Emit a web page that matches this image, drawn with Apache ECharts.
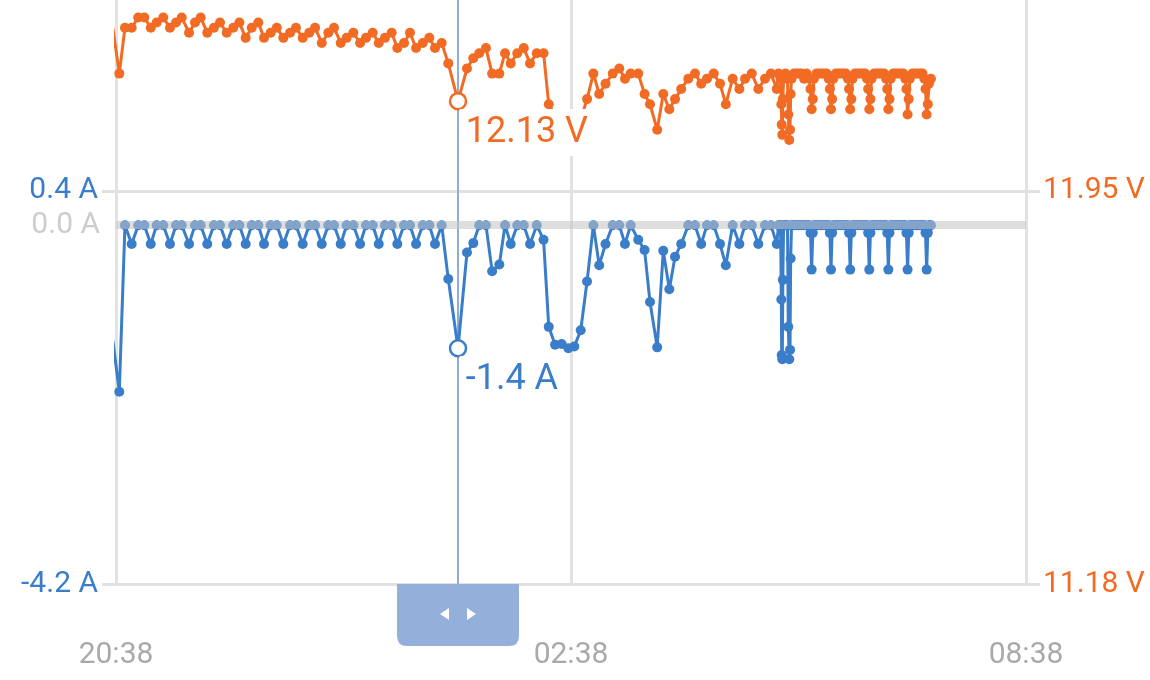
<!DOCTYPE html>
<html>
<head>
<meta charset="utf-8">
<script src="https://cdn.jsdelivr.net/npm/echarts@6.0.0/dist/echarts.min.js"></script>
<style>
html,body{margin:0;padding:0;background:#ffffff;}
#chart{width:1150px;height:680px;}
</style>
</head>
<body>
<div id="chart"></div>
<script>
// ---- data ----
const timeLabels = ['20:38', '02:38', '08:38'];   // x ticks at 0, 360, 720 minutes after 20:38
const ampTicks = [0.4, -4.2];
const voltTicks = [11.95, 11.18];
const cursorMinute = 270.6;                          // where the cursor sits

// minutes after 20:38
const minutes = [
  -2.5, 2.6, 7.1, 12.4, 17.6, 22.4, 27.5, 32.2, 37.4, 42.7,
  47.5, 52.0, 57.8, 62.5, 67.0, 72.2, 77.5, 82.3, 87.6, 92.8,
  97.6, 102.6, 107.4, 112.6, 117.1, 122.4, 127.2, 132.4, 137.7, 142.4,
  147.7, 152.9, 157.5, 162.8, 168.0, 172.5, 177.8, 182.5, 187.8, 193.1,
  197.8, 203.1, 207.9, 212.8, 218.1, 222.6, 227.9, 232.6, 237.4, 242.7,
  247.9, 252.4, 257.7, 262.9, 270.6, 277.7, 282.7, 287.4, 292.7, 297.6,
  303.3, 307.8, 312.3, 317.5, 322.6, 327.6, 332.9, 338.3, 342.4, 347.4,
  352.6, 357.9, 362.6, 367.7, 372.7, 377.7, 382.3, 387.3, 393.0, 398.2,
  402.7, 407.2, 413.2, 418.2, 422.5, 428.2, 433.0, 437.8, 442.3, 447.2,
  452.8, 458.1, 463.0, 467.6, 472.9, 477.9, 482.5, 487.9, 493.2, 497.7,
  503.0, 508.2, 513.5, 518.2, 522.8, 524.2, 525.8, 526.4, 526.7, 527.2,
  527.6, 528.2, 529.7, 531.3, 531.9, 532.7, 533.3, 533.8, 534.5, 536.4,
  538.4, 540.4, 542.4, 544.4, 546.4, 548.4, 549.5, 550.4, 551.3, 552.2,
  554.2, 556.2, 558.2, 560.2, 562.2, 563.9, 564.8, 565.7, 566.6, 567.5,
  569.5, 571.5, 573.5, 575.5, 577.5, 579.1, 580.0, 580.9, 581.8, 582.7,
  584.7, 586.7, 588.7, 590.7, 592.7, 594.2, 595.1, 596.0, 596.9, 597.8,
  599.8, 601.8, 603.8, 605.8, 607.8, 609.3, 610.2, 611.1, 612.0, 612.9,
  614.9, 616.9, 618.9, 620.9, 622.9, 624.5, 625.4, 626.3, 627.2, 628.1,
  630.1, 632.1, 634.1, 636.1, 638.1, 639.6, 640.5, 641.4, 642.3, 643.2,
  644.8
];

// battery voltage (V)
const volts = [
  12.27, 12.18, 12.27, 12.27, 12.29, 12.29, 12.27, 12.28, 12.29, 12.27,
  12.28, 12.29, 12.26, 12.28, 12.29, 12.26, 12.27, 12.28, 12.26, 12.27,
  12.28, 12.25, 12.27, 12.28, 12.25, 12.26, 12.27, 12.25, 12.26, 12.27,
  12.25, 12.26, 12.27, 12.24, 12.26, 12.27, 12.24, 12.25, 12.26, 12.24,
  12.25, 12.26, 12.24, 12.25, 12.26, 12.23, 12.24, 12.26, 12.23, 12.24,
  12.25, 12.23, 12.24, 12.20, 12.126, 12.19, 12.21, 12.22, 12.23, 12.18,
  12.18, 12.22, 12.20, 12.22, 12.23, 12.20, 12.22, 12.22, 12.12, 12.10,
  12.10, 12.09, 12.09, 12.09, 12.13, 12.18, 12.14, 12.16, 12.18, 12.19,
  12.17, 12.18, 12.18, 12.14, 12.12, 12.07, 12.14, 12.11, 12.13, 12.15,
  12.17, 12.18, 12.16, 12.17, 12.18, 12.16, 12.12, 12.17, 12.15, 12.17,
  12.18, 12.15, 12.17, 12.18, 12.15, 12.18, 12.17, 12.12, 12.08, 12.06,
  12.13, 12.17, 12.18, 12.17, 12.10, 12.05, 12.07, 12.14, 12.17, 12.18,
  12.18, 12.18, 12.18, 12.17, 12.18, 12.17, 12.15, 12.11, 12.13, 12.17,
  12.18, 12.18, 12.18, 12.18, 12.18, 12.17, 12.15, 12.11, 12.13, 12.17,
  12.18, 12.18, 12.18, 12.18, 12.18, 12.17, 12.15, 12.11, 12.13, 12.17,
  12.18, 12.18, 12.18, 12.18, 12.18, 12.17, 12.15, 12.11, 12.13, 12.17,
  12.18, 12.18, 12.18, 12.18, 12.18, 12.17, 12.15, 12.11, 12.13, 12.17,
  12.18, 12.18, 12.18, 12.18, 12.18, 12.17, 12.15, 12.10, 12.13, 12.17,
  12.18, 12.18, 12.18, 12.18, 12.18, 12.17, 12.15, 12.10, 12.12, 12.16,
  12.17
];

// battery current (A)
const amps = [
  -1.35, -1.95, 0, -0.22, 0, 0, -0.22, 0, 0, -0.22,
  0, 0, -0.22, 0, 0, -0.22, 0, 0, -0.22, 0,
  0, -0.22, 0, 0, -0.22, 0, 0, -0.22, 0, 0,
  -0.22, 0, 0, -0.22, 0, 0, -0.22, 0, 0, -0.22,
  0, 0, -0.22, 0, 0, -0.22, 0, 0, -0.22, 0,
  0, -0.22, 0, -0.63, -1.44, -0.32, -0.21, 0, 0, -0.54,
  -0.46, 0, -0.22, 0, 0, -0.22, 0, -0.17, -1.19, -1.40,
  -1.39, -1.44, -1.42, -1.23, -0.66, 0, -0.47, -0.22, 0, 0,
  -0.22, 0, -0.17, -0.29, -0.90, -1.43, -0.30, -0.75, -0.37, -0.22,
  0, 0, -0.22, 0, 0, -0.22, -0.47, 0, -0.22, 0,
  0, -0.22, 0, 0, -0.22, 0, 0, -0.87, -1.52, -1.57,
  -0.64, 0, 0, 0, -1.19, -1.57, -1.46, -0.39, 0, 0,
  0, 0, 0, 0, 0, 0, -0.09, -0.52, -0.09, 0,
  0, 0, 0, 0, 0, 0, -0.09, -0.52, -0.09, 0,
  0, 0, 0, 0, 0, 0, -0.09, -0.52, -0.09, 0,
  0, 0, 0, 0, 0, 0, -0.09, -0.52, -0.09, 0,
  0, 0, 0, 0, 0, 0, -0.09, -0.52, -0.09, 0,
  0, 0, 0, 0, 0, 0, -0.09, -0.52, -0.09, 0,
  0, 0, 0, 0, 0, 0, -0.09, -0.52, -0.09, 0,
  0
];

// ---- styling / building ----
const ORANGE = '#f26b24';
const BLUE = '#3a7dc9';
const GRID = '#e2e2e2';
const HI = minutes.indexOf(cursorMinute);
const voltData = minutes.map((m, i) => [m, volts[i]]);
const ampData = minutes.map((m, i) => [m, amps[i]]);

// drawn in a square box; ECharts stretches it to handle.size
const handleIcon = 'path://M0,0L122,0L122,102.3Q122,122,112,122L10,122Q0,122,0,102.3Z' +
  'M43,59L52,71L52,47ZM79,59L70,47L70,71Z';

const chart = echarts.init(document.getElementById('chart'), null, { renderer: 'canvas' });

const pointLabel = (color, fmt) => ({
  show: true,
  position: [11, 17],
  formatter: fmt,
  fontFamily: 'Roboto',
  fontSize: 36,
  lineHeight: 40,
  color: color,
  backgroundColor: '#ffffff',
  padding: [4, 6, 3, 6]
});

const option = {
  animation: false,
  backgroundColor: '#ffffff',
  textStyle: { fontFamily: 'Roboto' },
  grid: { left: 116, right: 124, top: 0, bottom: 96, containLabel: false, outerBoundsMode: 'none' },
  xAxis: {
    type: 'value',
    min: 0,
    max: 720,
    interval: 360,
    axisLine: { show: false },
    axisTick: { show: true, length: 14, lineStyle: { color: GRID, width: 3 } },
    splitLine: { show: true, lineStyle: { color: GRID, width: 3 } },
    axisLabel: {
      margin: 56, fontSize: 30, color: '#a9a9a9', fontFamily: 'Roboto',
      formatter: v => timeLabels[Math.round(v / 360)]
    },
    axisPointer: {
      show: true,
      value: minutes[HI],
      status: 'show',
      snap: false,
      triggerTooltip: false,
      z: 3,
      type: 'line',
      lineStyle: { color: '#8fadda', width: 2, type: 'solid' },
      label: { show: false },
      handle: {
        show: true,
        icon: handleIcon,
        size: [122, 62],
        margin: 31,
        color: '#94b0da',
        shadowBlur: 0,
        shadowOffsetX: 0,
        shadowOffsetY: 0,
        shadowColor: 'rgba(0,0,0,0)'
      }
    }
  },
  yAxis: [
    {
      type: 'value',
      position: 'left',
      min: -4.2,
      max: 2.6356,
      axisLine: { show: false },
      axisTick: { show: true, length: 14, customValues: ampTicks, lineStyle: { color: GRID, width: 3 } },
      axisLabel: {
        customValues: ampTicks, margin: 18, fontSize: 30, color: BLUE, fontFamily: 'Roboto',
        formatter: v => v.toFixed(1) + ' A'
      },
      splitLine: { show: true, lineStyle: { color: GRID, width: 3 } }
    },
    {
      type: 'value',
      position: 'right',
      min: 11.18,
      max: 12.3242,
      axisLine: { show: false },
      axisTick: { show: true, length: 14, customValues: voltTicks, lineStyle: { color: GRID, width: 3 } },
      axisLabel: {
        customValues: voltTicks, margin: 17, fontSize: 30, color: ORANGE, fontFamily: 'Roboto',
        formatter: v => v.toFixed(2) + ' V'
      },
      splitLine: { show: false }
    }
  ],
  series: [
    {
      name: 'Voltage',
      type: 'line',
      yAxisIndex: 1,
      data: voltData,
      symbol: 'circle',
      symbolSize: 10,
      showSymbol: true,
      lineStyle: { color: ORANGE, width: 3 },
      itemStyle: { color: ORANGE },
      emphasis: { disabled: true },
      markPoint: {
        silent: true,
        symbol: 'circle',
        symbolSize: 16,
        itemStyle: { color: '#ffffff', borderColor: ORANGE, borderWidth: 2.5 },
        label: pointLabel(ORANGE, p => Number(p.value).toFixed(2) + ' V'),
        emphasis: { disabled: true },
        data: [{ coord: [minutes[HI], volts[HI]], value: volts[HI] }]
      }
    },
    {
      name: 'Current',
      type: 'line',
      yAxisIndex: 0,
      data: ampData,
      symbol: 'circle',
      symbolSize: 10,
      showSymbol: true,
      lineStyle: { color: BLUE, width: 3 },
      itemStyle: { color: BLUE },
      emphasis: { disabled: true },
      markLine: {
        silent: true,
        symbol: ['none', 'none'],
        lineStyle: { color: 'rgba(195,195,195,0.55)', width: 8, type: 'solid' },
        label: {
          show: true, position: 'start', distance: 16,
          formatter: p => Number(p.value).toFixed(1) + ' A',
          color: '#cccccc', fontSize: 30, fontFamily: 'Roboto'
        },
        emphasis: { disabled: true },
        data: [{ yAxis: 0 }]
      },
      markPoint: {
        silent: true,
        symbol: 'circle',
        symbolSize: 16,
        itemStyle: { color: '#ffffff', borderColor: BLUE, borderWidth: 2.5 },
        label: pointLabel(BLUE, p => Number(p.value).toFixed(1) + ' A'),
        emphasis: { disabled: true },
        data: [{ coord: [minutes[HI], amps[HI]], value: amps[HI] }]
      }
    }
  ]
};

chart.setOption(option);
</script>
</body>
</html>
